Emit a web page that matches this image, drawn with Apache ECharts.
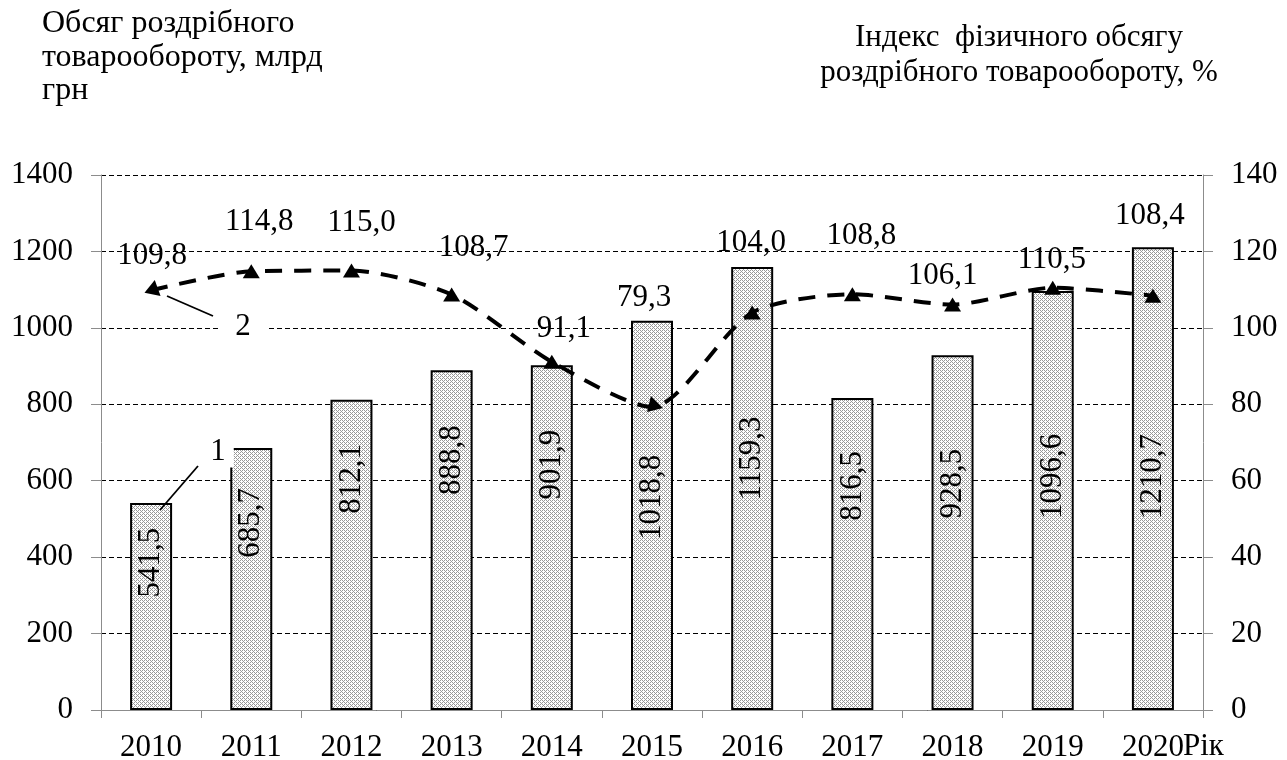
<!DOCTYPE html>
<html>
<head>
<meta charset="utf-8">
<script src="https://cdn.jsdelivr.net/npm/echarts@6/dist/echarts.min.js"></script>
<style>
html,body{margin:0;padding:0;background:#fff;}
#chart{width:1287px;height:760px;}
</style>
</head>
<body>
<div id="chart"></div>
<script>
// ---- data ----
const years = ['2010','2011','2012','2013','2014','2015','2016','2017','2018','2019','2020'];
const turnover = [541.5, 685.7, 812.1, 888.8, 901.9, 1018.8, 1159.3, 816.5, 928.5, 1096.6, 1210.7];
const volumeIndex = [109.8, 114.8, 115.0, 108.7, 91.1, 79.3, 104.0, 108.8, 106.1, 110.5, 108.4];
const leftTicks = [0, 1400, 200];   // min, max, interval
const rightTicks = [0, 140, 20];
const leftTitle = ['Обсяг роздрібного', 'товарообороту, млрд', 'грн'];
const rightTitle = ['Індекс  фізичного обсягу', 'роздрібного товарообороту, %'];
const xName = 'Рік';

// ---- layout (label placement, not data) ----
const barLabelShift = [-44, -56, -76, -80, -73, -18, -30, -68, -49, -24, -2];
const lineLabelShift = [[1,-35],[8,-49],[10,-48],[22,-47],[12,-33],[-8,-109],[-1,-70],[9,-58],[-10,-29],[-1,-28],[-3,-80]];
const markerRotate = [110, 0, 0, 0, 0, 135, 0, 0, 0, 0, 0];

const FONT = 'Liberation Serif';
const FS = 31;
const fmt = v => v.toFixed(1).replace('.', ',');

function makePattern(){
  const c = document.createElement('canvas');
  c.width = 4; c.height = 4;
  const g = c.getContext('2d');
  g.fillStyle = '#ffffff'; g.fillRect(0,0,4,4);
  g.fillStyle = '#999999';
  [[0,0],[2,0],[0,2],[2,2],[3,1],[1,3]].forEach(p => g.fillRect(p[0], p[1], 1, 1));
  return c;
}

const chart = echarts.init(document.getElementById('chart'), null, {renderer:'canvas'});

const option = {
  animation: false,
  backgroundColor: '#fff',
  textStyle: {fontFamily: FONT, color: '#000'},
  grid: {left: 101, right: 84, top: 175, bottom: 50, containLabel: false, outerBoundsMode: 'none'},
  xAxis: {
    type: 'category',
    data: years,
    boundaryGap: true,
    axisLine: {lineStyle: {color: '#8c8c8c', width: 1}},
    axisTick: {show: true, length: 8, lineStyle: {color: '#8c8c8c'}},
    axisLabel: {fontFamily: FONT, fontSize: FS, color: '#000', margin: 22},
    splitLine: {show: false}
  },
  yAxis: [
    {
      type: 'value', min: leftTicks[0], max: leftTicks[1], interval: leftTicks[2],
      axisLine: {show: true, lineStyle: {color: '#8c8c8c'}},
      axisTick: {show: true, length: 10, lineStyle: {color: '#8c8c8c'}},
      axisLabel: {fontFamily: FONT, fontSize: FS, color: '#000', margin: 28, formatter: v => String(v)},
      splitLine: {show: true, lineStyle: {color: '#000', width: 1, type: [5,3]}}
    },
    {
      type: 'value', min: rightTicks[0], max: rightTicks[1], interval: rightTicks[2],
      position: 'right',
      axisLine: {show: true, lineStyle: {color: '#8c8c8c'}},
      axisTick: {show: true, length: 10, lineStyle: {color: '#8c8c8c'}},
      axisLabel: {fontFamily: FONT, fontSize: FS, color: '#000', margin: 28, formatter: v => String(v)},
      splitLine: {show: false}
    }
  ],
  series: [
    {
      type: 'bar',
      yAxisIndex: 0,
      barWidth: 42,
      data: turnover.map((v,i) => ({value: v, label: {offset: [-barLabelShift[i], 0]}})),
      itemStyle: {color: {image: makePattern(), repeat: 'repeat'}, borderColor: '#000', borderWidth: 2},
      label: {
        show: true, position: 'inside', rotate: 90,
        fontFamily: FONT, fontSize: FS, color: '#000',
        formatter: p => fmt(p.value)
      },
      z: 2
    },
    {
      type: 'line',
      yAxisIndex: 1,
      smooth: 0.25,
      symbol: 'triangle',
      symbolSize: [17, 14],
      data: volumeIndex.map((v,i) => ({
        value: v,
        symbolRotate: markerRotate[i],
        label: {offset: lineLabelShift[i]}
      })),
      lineStyle: {color: '#000', width: 4, type: [17, 12]},
      itemStyle: {color: '#000'},
      label: {
        show: true, position: 'inside',
        fontFamily: FONT, fontSize: FS, color: '#000',
        formatter: p => fmt(p.value)
      },
      z: 5
    }
  ],
  graphic: [
    {type:'text', left: 42, top: 8, style:{text: leftTitle[0], font: '32px "Liberation Serif"', fill:'#000'}},
    {type:'text', left: 42, top: 42, style:{text: leftTitle[1], font: '32px "Liberation Serif"', fill:'#000'}},
    {type:'text', left: 42, top: 75, style:{text: leftTitle[2], font: '32px "Liberation Serif"', fill:'#000'}},
    {type:'text', x: 1019, y: 38, style:{text: rightTitle[0], font: '31px "Liberation Serif"', fill:'#000', textAlign:'center', textVerticalAlign:'middle'}},
    {type:'text', x: 1019, y: 73, style:{text: rightTitle[1], font: '31px "Liberation Serif"', fill:'#000', textAlign:'center', textVerticalAlign:'middle'}},
    {type:'text', x: 1183, y: 747, style:{text: xName, font: '31px "Liberation Serif"', fill:'#000', textAlign:'left', textVerticalAlign:'middle'}},
    // annotation 1
    {type:'line', z: 20, shape:{x1:160, y1:510, x2:198, y2:466}, style:{stroke:'#000', lineWidth:1.8}},
    {type:'text', z: 20, x: 218, y: 452, style:{text:'1', font:'31px "Liberation Serif"', fill:'#000', textAlign:'center', textVerticalAlign:'middle', backgroundColor:'#fff', padding:[0,8,0,8]}},
    // annotation 2
    {type:'line', z: 20, shape:{x1:167, y1:296, x2:213, y2:316}, style:{stroke:'#000', lineWidth:1.8}},
    {type:'text', z: 20, x: 243, y: 327, style:{text:'2', font:'31px "Liberation Serif"', fill:'#000', textAlign:'center', textVerticalAlign:'middle', backgroundColor:'#fff', padding:[0,17,0,17]}}
  ]
};
chart.setOption(option);
</script>
</body>
</html>
